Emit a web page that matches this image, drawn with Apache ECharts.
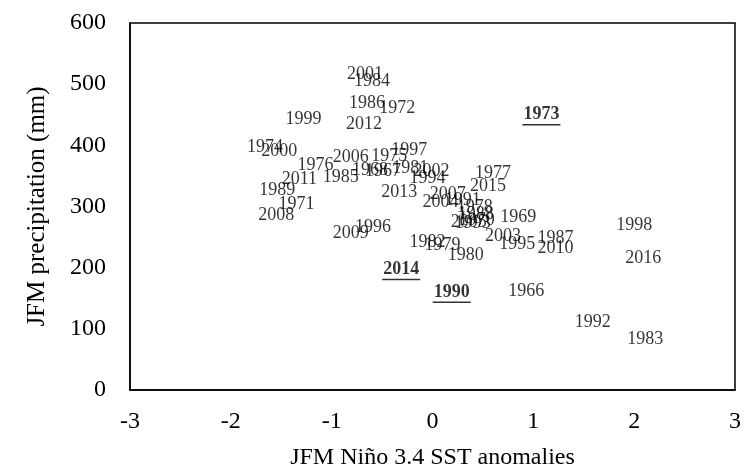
<!DOCTYPE html>
<html>
<head><meta charset="utf-8"></head>
<script type="text/javascript" src="https://cdn.jsdelivr.net/npm/echarts@6/dist/echarts.min.js"></script>
<body style="margin:0;background-color:#fff;">
    <div id="main" style="width:744px;height:475px;"></div>
</body>
<script type="text/javascript">
// years, JFM Nino 3.4 SST anomalies, JFM precipitation (mm)
var years  = [2001, 1984, 1986, 1972, 1999, 2012, 1973, 1974, 2000, 2006, 1975, 1997, 1976, 1968, 1967, 1981, 2002,
              1994, 1985, 2011, 1989, 1971, 2008, 2013, 1977, 2015, 2007, 2004, 1991, 1978, 1988, 1970, 2005, 1993,
              1969, 2003, 1995, 1987, 2010, 1982, 1979, 1980, 2009, 1996, 2014, 1990, 1966, 1998, 2016, 1992, 1983];
var sst    = [-0.67, -0.60, -0.65, -0.35, -1.28, -0.68, 1.08, -1.66, -1.52, -0.81, -0.43, -0.23, -1.16, -0.62, -0.49, -0.22, -0.01,
              -0.05, -0.91, -1.32, -1.54, -1.35, -1.55, -0.33, 0.60, 0.55, 0.15, 0.08, 0.30, 0.42, 0.43, 0.44, 0.36, 0.40,
              0.85, 0.70, 0.84, 1.22, 1.22, -0.05, 0.10, 0.33, -0.81, -0.59, -0.31, 0.19, 0.93, 2.00, 2.09, 1.59, 2.11];
var precip = [517, 504, 469, 461, 442, 435, 450, 397, 390, 381, 382, 392, 368, 360, 357, 362, 358,
              346, 347, 344, 326, 304, 286, 323, 355, 333, 320, 307, 310, 298, 288, 278, 275, 272,
              283, 251, 238, 248, 232, 242, 237, 221, 256, 266, 197, 160, 162, 270, 216, 110, 83];
// years shown bold and underlined
var marked = [1973, 2014, 1990];

var xTicks = [-3, -2, -1, 0, 1, 2, 3];
var yTicks = [0, 100, 200, 300, 400, 500, 600];

var pts = [];
var under = [];
for (var i = 0; i < years.length; i++) {
    var bold = marked.indexOf(years[i]) >= 0;
    pts.push({
        value: [sst[i], precip[i]],
        name: String(years[i]),
        label: {fontWeight: bold ? 'bold' : 'normal'}
    });
    if (bold) {
        under.push([sst[i], precip[i]]);
    }
}

var font = 'Liberation Serif, Times New Roman, serif';
var myChart = echarts.init(document.getElementById('main'));
myChart.setOption({
    animation: false,
    grid: {
        left: 130, right: 7, top: 23, bottom: 77,
        show: true,
        borderColor: '#000',
        borderWidth: 1.5
    },
    xAxis: {
        type: 'value',
        min: xTicks[0], max: xTicks[xTicks.length - 1], interval: 1,
        name: 'JFM Niño 3.4 SST anomalies',
        nameLocation: 'middle',
        nameGap: 56,
        nameTextStyle: {fontFamily: font, fontSize: 24, color: '#000'},
        axisLine: {show: true, onZero: false, lineStyle: {color: '#000', width: 1.5}},
        axisTick: {show: false},
        splitLine: {show: false},
        axisLabel: {fontFamily: font, fontSize: 24, color: '#000', margin: 20}
    },
    yAxis: {
        type: 'value',
        min: yTicks[0], max: yTicks[yTicks.length - 1], interval: 100,
        name: 'JFM precipitation (mm)',
        nameLocation: 'middle',
        nameGap: 80,
        nameTextStyle: {fontFamily: font, fontSize: 25, color: '#000'},
        axisLine: {show: true, onZero: false, lineStyle: {color: '#000', width: 1.5}},
        axisTick: {show: false},
        splitLine: {show: false},
        axisLabel: {fontFamily: font, fontSize: 24, color: '#000', margin: 24}
    },
    series: [
        {
            type: 'scatter',
            data: pts,
            symbolSize: 0,
            itemStyle: {color: 'rgba(0,0,0,0)'},
            label: {
                show: true,
                position: 'inside',
                formatter: '{b}',
                fontFamily: font,
                fontSize: 18,
                color: '#000',
                textBorderWidth: 0
            },
            labelLayout: {hideOverlap: false}
        },
        {
            // underline for the marked years
            type: 'scatter',
            data: under,
            symbol: 'rect',
            symbolSize: [38, 1.5],
            symbolOffset: [0, 10],
            itemStyle: {color: '#000'},
            silent: true
        }
    ]
});
</script>
</html>
